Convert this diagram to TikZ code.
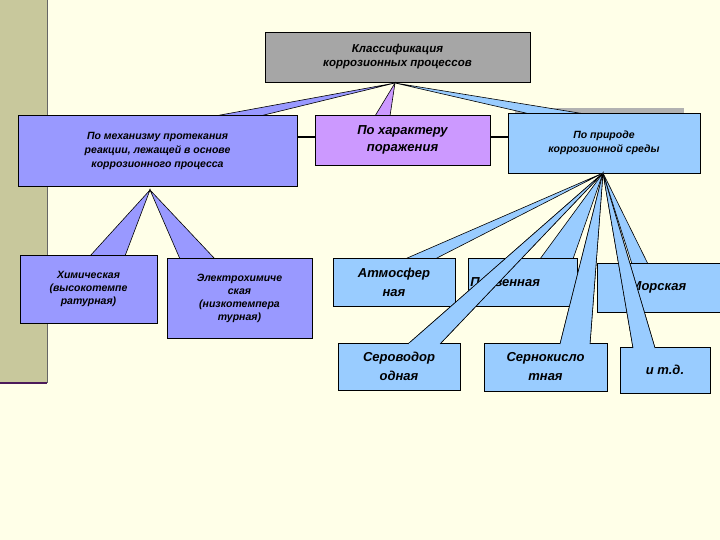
\documentclass[tikz,border=0pt]{standalone}
\usepackage{fontspec}
\setmainfont{Liberation Sans}
\begin{document}
\begin{tikzpicture}[x=1pt,y=-1pt,
  box/.style={draw=black,line width=0.8pt,align=center,font=\bfseries\itshape,inner sep=2pt},
  wedge/.style={draw=black,line width=0.6pt,line join=miter}]
\definecolor{bg}{HTML}{FFFFE8}
\definecolor{stripe}{HTML}{C8C89C}
\definecolor{gr}{HTML}{A6A6A6}
\definecolor{bl}{HTML}{9999FF}
\definecolor{vi}{HTML}{CC99FF}
\definecolor{lb}{HTML}{99CCFF}
\definecolor{pu}{HTML}{4B1A5A}
\useasboundingbox (0,0) rectangle (720,540);
\fill[bg] (0,0) rectangle (720,540);
\fill[stripe] (0,0) rectangle (47,383);
\draw[pu,line width=2.5pt] (0,383) -- (47,383);
\draw[black!60,line width=0.6pt] (47,0) -- (47,383);
% shadow and connecting lines
\fill[gray!60] (515,108) rectangle (684,113);
\draw[black,line width=1.5pt] (297,137) -- (315,137);
\draw[black,line width=1.5pt] (490,137) -- (508,137);
% title
\node[box,fill=gr,minimum width=265pt,minimum height=50pt,font=\bfseries\itshape\fontsize{11.5}{14}\selectfont] (t) at (397.5,57) {Классификация\\коррозионных процессов};
\coordinate (tt) at (395,83);
% level 1
\fill[bl,wedge] (215,116) -- (tt) -- (260,116);
\node[box,fill=bl,minimum width=279pt,minimum height=71pt,font=\bfseries\itshape\fontsize{10.5}{14}\selectfont] (a) at (157.5,150.5) {По механизму протекания\\реакции, лежащей в основе\\коррозионного процесса};
\fill[vi,wedge] (375,116) -- (tt) -- (390,116);
\node[box,fill=vi,minimum width=175pt,minimum height=50pt,font=\bfseries\itshape\fontsize{13}{17}\selectfont] (b) at (402.5,140) {По характеру\\поражения};
\fill[lb,wedge] (530,114) -- (tt) -- (585,114);
\node[box,fill=lb,minimum width=192pt,minimum height=60pt,font=\bfseries\itshape\fontsize{10.5}{14}\selectfont] (c) at (604,143) {По природе\\коррозионной среды};
% level 2 left
\coordinate (at) at (150,190);
\fill[bl,wedge] (90,256) -- (at) -- (125,256);
\node[box,fill=bl,minimum width=137pt,minimum height=68pt,font=\bfseries\itshape\fontsize{10.5}{13}\selectfont] (h) at (88.5,289) {Химическая\\(высокотемпе\\ратурная)};
\fill[bl,wedge] (180,259) -- (at) -- (215,259);
\node[box,fill=bl,minimum width=145pt,minimum height=80pt,font=\bfseries\itshape\fontsize{10.5}{13}\selectfont] (e) at (239.5,298) {Электрохимиче\\ская\\(низкотемпера\\турная)};
% level 2 right
\coordinate (ct) at (603,173);
\tikzset{sm/.style={box,fill=lb,font=\bfseries\itshape\fontsize{13}{19}\selectfont}}
\fill[lb,wedge] (405,259) -- (ct) -- (435,259);
\node[sm,minimum width=122pt,minimum height=48pt] (m1) at (394,282) {Атмосфер\\ная};
\fill[lb,wedge] (540,259) -- (ct) -- (573,259);
\node[sm,minimum width=109pt,minimum height=48pt,anchor=north west,text width=105pt,align=left] (m2) at (468,258) {Почвенная};
\fill[lb,wedge] (632,264) -- (ct) -- (648,264);
\node[sm,minimum width=123pt,minimum height=49pt] (m3) at (658.5,287.5) {Морская};
\fill[lb,wedge] (408,344) -- (ct) -- (440,344);
\node[sm,minimum width=122pt,minimum height=47pt] (m4) at (399,366.5) {Сероводор\\одная};
\fill[lb,wedge] (560,344) -- (ct) -- (590,344);
\node[sm,minimum width=123pt,minimum height=48pt] (m5) at (545.5,367) {Сернокисло\\тная};
\fill[lb,wedge] (633,348) -- (ct) -- (655,348);
\node[sm,minimum width=90pt,minimum height=46pt] (m6) at (665,370) {и т.д.};
% redraw overlapping wedges on top of earlier boxes
\fill[lb,wedge] (560,344) -- (ct) -- (590,344);
\fill[lb,wedge] (408,344) -- (ct) -- (440,344);
\fill[lb,wedge] (633,348) -- (ct) -- (655,348);
\fill[lb] (561,343) rectangle (589,346);
\fill[lb] (409,343) rectangle (439,346);
\fill[lb] (634,347) rectangle (654,350);
\end{tikzpicture}
\end{document}
